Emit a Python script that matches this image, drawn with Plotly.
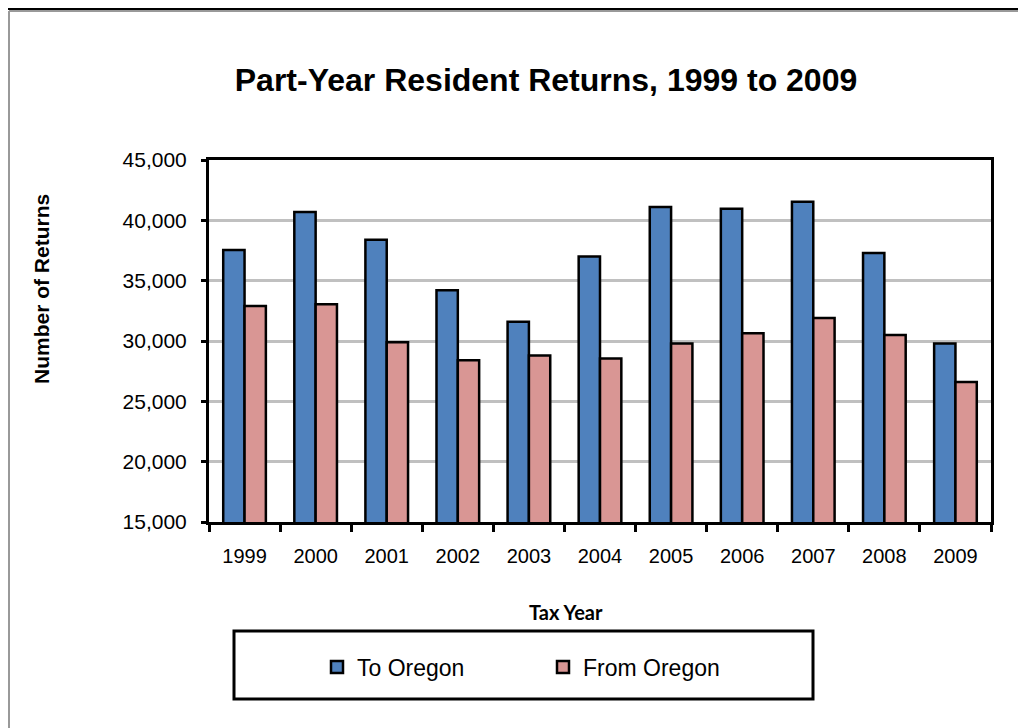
import plotly.graph_objects as go

years = ["1999", "2000", "2001", "2002", "2003", "2004", "2005", "2006", "2007", "2008", "2009"]
to_oregon = [37550, 40700, 38400, 34200, 31600, 37000, 41100, 40950, 41550, 37300, 29800]
from_oregon = [32900, 33050, 29900, 28400, 28800, 28550, 29800, 30650, 31900, 30500, 26600]
series_names = ["To Oregon", "From Oregon"]
y_ticks = [15000, 20000, 25000, 30000, 35000, 40000, 45000]
y_tick_text = ["15,000", "20,000", "25,000", "30,000", "35,000", "40,000", "45,000"]

# page offset: the html body adds an 8px margin
OFF = 8
W, H = 1026 - OFF, 728 - OFF
# plot area in page pixels
PL, PR, PT, PB = 209, 991, 160, 522
L, R, T, B = PL - OFF, PR - OFF, PT - OFF, PB - OFF
FONT = "Liberation Sans, Arial, sans-serif"


def px(x):
    """page pixel x -> paper coordinate"""
    return (x - PL) / (PR - PL)


def py(y):
    """page pixel y -> paper coordinate"""
    return (PB - y) / (PB - PT)


fig = go.Figure()
fig.add_trace(go.Bar(x=years, y=to_oregon, name=series_names[0],
                     marker=dict(color="#4F81BD", line=dict(color="black", width=2.5))))
fig.add_trace(go.Bar(x=years, y=from_oregon, name=series_names[1],
                     marker=dict(color="#D99694", line=dict(color="black", width=2.5))))

fig.update_layout(
    width=W, height=H,
    margin=dict(l=L, r=W - R, t=T, b=H - B, autoexpand=False),
    paper_bgcolor="white", plot_bgcolor="white",
    barmode="group", bargap=0.4, bargroupgap=0,
    font=dict(family=FONT, color="black", size=20),
    title=dict(text="<b>Part-Year Resident Returns, 1999 to 2009</b>",
               x=(546 - OFF) / W, xanchor="center", y=1 - (80 - OFF) / H, yanchor="middle",
               yref="container", xref="container",
               font=dict(family=FONT, size=32, color="black")),
    showlegend=True,
    legend=dict(orientation="h", x=px(317), xanchor="left", y=py(667), yanchor="middle",
                bgcolor="rgba(0,0,0,0)", borderwidth=0,
                entrywidth=181, entrywidthmode="pixels",
                font=dict(family=FONT, size=23, color="black"),
                traceorder="normal"),
)

fig.update_xaxes(
    type="category", showline=True, linecolor="black", linewidth=3, mirror=True,
    ticks="outside", tickson="boundaries", ticklen=7, tickwidth=2.5, tickcolor="black",
    tickfont=dict(family=FONT, size=20, color="black"), ticklabelstandoff=14,
    showgrid=False,
)
fig.update_yaxes(
    range=[15000, 45000], tickvals=y_ticks, ticktext=y_tick_text,
    showline=True, linecolor="black", linewidth=3, mirror=True,
    ticks="outside", ticklen=5, tickwidth=2.5, tickcolor="black",
    tickfont=dict(family=FONT, size=21, color="black"), ticklabelstandoff=10,
    showgrid=True, gridcolor="#C0C0C0", gridwidth=2.5, zeroline=False,
)

fig.add_annotation(text="<b>Number of Returns</b>", x=px(41), y=py(289), xref="paper", yref="paper",
                   textangle=-90, showarrow=False, xanchor="center", yanchor="middle",
                   font=dict(family=FONT, size=21, color="black"))
fig.add_annotation(text="<b>Tax Year</b>", x=px(566), y=py(612), xref="paper", yref="paper",
                   showarrow=False, xanchor="center", yanchor="middle",
                   font=dict(family="Lato, Open Sans, sans-serif", size=20, color="black"))

# legend frame
fig.add_shape(type="rect", xref="paper", yref="paper",
              x0=px(234), x1=px(813), y0=py(699), y1=py(631),
              line=dict(color="black", width=3), fillcolor="rgba(0,0,0,0)", layer="above")
# page frame lines
fig.add_shape(type="line", xref="paper", yref="paper", x0=px(OFF), x1=px(1026 + 20), y0=py(OFF + 0.5), y1=py(OFF + 0.5),
              line=dict(color="black", width=3))
fig.add_shape(type="line", xref="paper", yref="paper", x0=px(OFF + 1), x1=px(1026 + 20), y0=py(OFF + 3), y1=py(OFF + 3),
              line=dict(color="#999999", width=2))
fig.add_shape(type="line", xref="paper", yref="paper", x0=px(OFF + 1), x1=px(OFF + 1), y0=py(OFF + 3), y1=py(740),
              line=dict(color="#999999", width=2))

fig.write_html("out.html")
